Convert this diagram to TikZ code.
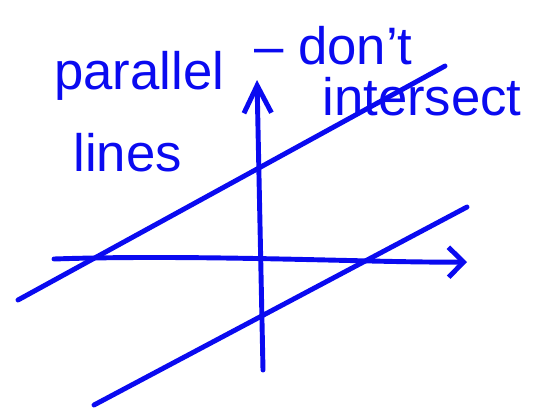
\documentclass[tikz,border=0pt]{standalone}
\usepackage{fontspec}
\setmainfont{Liberation Sans}
\usetikzlibrary{arrows.meta}
\definecolor{inkblue}{RGB}{10,10,240}

\begin{document}
\begin{tikzpicture}[x=0.02cm,y=-0.02cm,
    pen/.style={inkblue,line width=2.8pt,line cap=round,line join=round},
    scribble/.style={inkblue,font=\fontsize{30}{34}\selectfont,inner sep=0pt,anchor=base west}]
    \useasboundingbox (0,0) rectangle (547,413);

    % Axes
    \coordinate (xstart) at (54,259);
    \coordinate (xend) at (467,262);
    \coordinate (ystart) at (263,370);
    \coordinate (yend) at (257,80);
    \draw[pen,-{Straight Barb[length=0.3cm,width=0.6cm]}] (xstart) .. controls (200,254) and (380,263) .. (xend);
    \draw[pen,-{Straight Barb[length=0.55cm,width=0.55cm]}] (ystart) -- (yend);

    % Two parallel lines
    \coordinate (upA) at (18,300);
    \coordinate (upB) at (445,66);
    \coordinate (lowA) at (94,405);
    \coordinate (lowB) at (467,207);
    \draw[pen] (upA) -- (upB);
    \draw[pen] (lowA) -- (lowB);

    % Labels
    \node[scribble] (parallel) at (54,89) {parallel};
    \node[scribble] (dont) at (254,64) {– don't};
    \node[scribble] (intersect) at (322,115) {intersect};
    \node[scribble] (lines) at (73,171) {lines};
\end{tikzpicture}
\end{document}
